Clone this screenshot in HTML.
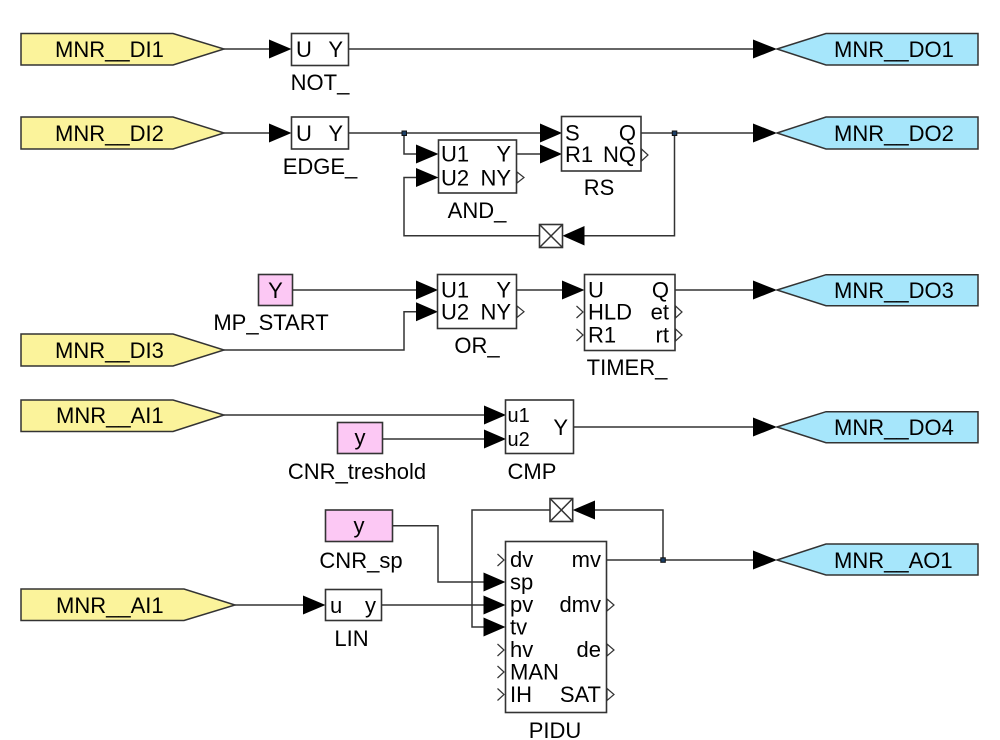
<!DOCTYPE html>
<html><head><meta charset="utf-8"><style>
html,body{margin:0;padding:0;background:#fff;}
svg{display:block;}
text{font-family:"Liberation Sans",Arial,sans-serif;fill:#000;}
.t{font-size:22px;}
.p{font-size:22px;}
.s{font-size:20px;}
.ln{stroke:#333;stroke-width:1.5;fill:none;}
.bx{stroke:#333;stroke-width:1.6;fill:#fff;}
.ar{fill:#000;}
.in{fill:#fbf39b;stroke:#333;stroke-width:1.5;}
.out{fill:#a6e6fb;stroke:#333;stroke-width:1.5;}
.pk{fill:#fcc8f4;stroke:#333;stroke-width:1.6;}
.ot{fill:#fff;stroke:#333;stroke-width:1.2;}
.ch{fill:none;stroke:#333;stroke-width:1.2;}
.jn{fill:#1b3f66;stroke:#111;stroke-width:1;}
</style></head><body>
<svg width="1000" height="740" viewBox="0 0 1000 740" xmlns="http://www.w3.org/2000/svg">

<!-- ===== Row 1 ===== -->
<polygon class="in" points="21,33.5 173,33.5 224,49 173,65 21,65"/>
<text class="t" x="55" y="57">MNR__DI1</text>
<line class="ln" x1="224" y1="49" x2="270" y2="49"/>
<polygon class="ar" points="269,39.5 291.5,49 269,58.5"/>
<rect class="bx" x="291.5" y="33.5" width="57" height="32"/>
<text class="p" x="296" y="57">U</text>
<text class="p" x="343" y="57" text-anchor="end">Y</text>
<text class="t" x="320" y="90" text-anchor="middle">NOT_</text>
<line class="ln" x1="348.5" y1="49" x2="754" y2="49"/>
<polygon class="ar" points="753,39.5 777,49 753,58.5"/>
<polygon class="out" points="777,49 826,33.5 978,33.5 978,65 826,65"/>
<text class="t" x="834" y="57">MNR__DO1</text>

<!-- ===== Row 2 ===== -->
<polygon class="in" points="21,117 173,117 224,133 173,149 21,149"/>
<text class="t" x="55" y="141">MNR__DI2</text>
<line class="ln" x1="224" y1="133" x2="270" y2="133"/>
<polygon class="ar" points="269,123.5 291.5,133 269,142.5"/>
<rect class="bx" x="291.5" y="117" width="57" height="32"/>
<text class="p" x="296" y="141">U</text>
<text class="p" x="343" y="141" text-anchor="end">Y</text>
<text class="t" x="320" y="174" text-anchor="middle">EDGE_</text>
<line class="ln" x1="348.5" y1="133" x2="541" y2="133"/>
<polygon class="ar" points="540,123.5 562,133 540,142.5"/>
<polyline class="ln" points="404,133 404,154 417,154"/>
<polygon class="ar" points="416,144.5 438.5,154 416,163.5"/>
<rect class="bx" x="438.5" y="140" width="78" height="53"/>
<text class="p" x="441" y="161.5">U1</text>
<text class="p" x="511" y="161.5" text-anchor="end">Y</text>
<text class="p" x="441" y="185.5">U2</text>
<text class="p" x="511" y="185.5" text-anchor="end">NY</text>
<polygon class="ot" points="517,172 524,177.5 517,183"/>
<text class="t" x="477" y="218" text-anchor="middle">AND_</text>
<line class="ln" x1="516.5" y1="154" x2="541" y2="154"/>
<polygon class="ar" points="540,144.5 562,154 540,163.5"/>
<rect class="bx" x="561.5" y="116.5" width="79.5" height="54.5"/>
<text class="p" x="565" y="140.5">S</text>
<text class="p" x="636" y="140.5" text-anchor="end">Q</text>
<text class="p" x="565" y="162">R1</text>
<text class="p" x="636" y="162" text-anchor="end">NQ</text>
<polygon class="ot" points="641.5,149 648,155 641.5,161"/>
<text class="t" x="599" y="195" text-anchor="middle">RS</text>
<line class="ln" x1="641" y1="133" x2="754" y2="133"/>
<polygon class="ar" points="753,123.5 777,133 753,142.5"/>
<polygon class="out" points="777,133 826,117 978,117 978,149 826,149"/>
<text class="t" x="834" y="141">MNR__DO2</text>
<polyline class="ln" points="674.5,133 674.5,235.7 583,235.7"/>
<polygon class="ar" points="584.5,226 562.5,235.7 584.5,245.5"/>
<rect class="bx" x="539.5" y="224.5" width="23" height="23"/>
<line class="ln" x1="539.5" y1="224.5" x2="562.5" y2="247.5"/>
<line class="ln" x1="562.5" y1="224.5" x2="539.5" y2="247.5"/>
<polyline class="ln" points="539.5,235.7 404,235.7 404,177.5 417,177.5"/>
<polygon class="ar" points="416,168 438.5,177.5 416,187"/>
<rect class="jn" x="402" y="131" width="4.5" height="4.5"/>
<rect class="jn" x="672.3" y="131" width="4.5" height="4.5"/>

<!-- ===== Row 3 ===== -->
<rect class="pk" x="258.5" y="274.5" width="34" height="31"/>
<text class="t" x="275.5" y="298" text-anchor="middle">Y</text>
<text class="t" x="271" y="330" text-anchor="middle">MP_START</text>
<line class="ln" x1="292.5" y1="290" x2="417" y2="290"/>
<polygon class="ar" points="416,280.5 438,290 416,299.5"/>
<polygon class="in" points="21,334 173,334 224,350 173,366 21,366"/>
<text class="t" x="55" y="358">MNR__DI3</text>
<polyline class="ln" points="224,350 404,350 404,311.7 417,311.7"/>
<polygon class="ar" points="416,302.2 438,311.7 416,321.2"/>
<rect class="bx" x="437.5" y="274.5" width="79" height="54"/>
<text class="p" x="441" y="297.5">U1</text>
<text class="p" x="511" y="297.5" text-anchor="end">Y</text>
<text class="p" x="441" y="319.5">U2</text>
<text class="p" x="511" y="319.5" text-anchor="end">NY</text>
<polygon class="ot" points="517,306 524,311.7 517,317.5"/>
<text class="t" x="477" y="353" text-anchor="middle">OR_</text>
<line class="ln" x1="516.5" y1="290" x2="563" y2="290"/>
<polygon class="ar" points="562,280.5 584.5,290 562,299.5"/>
<rect class="bx" x="584.5" y="274.5" width="90.5" height="76"/>
<text class="p" x="588" y="297.5">U</text>
<text class="p" x="669" y="297.5" text-anchor="end">Q</text>
<text class="p" x="588" y="319.5">HLD</text>
<text class="p" x="669" y="319.5" text-anchor="end">et</text>
<text class="p" x="588" y="342.5">R1</text>
<text class="p" x="669" y="342.5" text-anchor="end">rt</text>
<polyline class="ch" points="576.5,306 583,312 576.5,318"/>
<polyline class="ch" points="576.5,329 583,335 576.5,341"/>
<polygon class="ot" points="675.5,306 682,312 675.5,318"/>
<polygon class="ot" points="675.5,329 682,335 675.5,341"/>
<text class="t" x="627" y="375" text-anchor="middle">TIMER_</text>
<line class="ln" x1="675" y1="290" x2="754" y2="290"/>
<polygon class="ar" points="753,280.5 777,290 753,299.5"/>
<polygon class="out" points="777,290 826,274.7 978,274.7 978,305.7 826,305.7"/>
<text class="t" x="834" y="298">MNR__DO3</text>

<!-- ===== Row 4 ===== -->
<polygon class="in" points="21,400 173,400 224,415 173,431.5 21,431.5"/>
<text class="t" x="56" y="423">MNR__AI1</text>
<line class="ln" x1="224" y1="415" x2="485" y2="415"/>
<polygon class="ar" points="484,405.5 506,415 484,424.5"/>
<rect class="pk" x="337.5" y="422.5" width="45" height="31"/>
<text class="t" x="360" y="445" text-anchor="middle">y</text>
<text class="t" x="357" y="479" text-anchor="middle">CNR_treshold</text>
<line class="ln" x1="382.5" y1="439" x2="485" y2="439"/>
<polygon class="ar" points="484,429.5 506,439 484,448.5"/>
<rect class="bx" x="505.5" y="400" width="68" height="53.5"/>
<text class="s" x="507.5" y="422">u1</text>
<text class="s" x="507.5" y="446">u2</text>
<text class="t" x="568" y="435" text-anchor="end">Y</text>
<text class="t" x="532" y="479" text-anchor="middle">CMP</text>
<line class="ln" x1="573.5" y1="427" x2="754" y2="427"/>
<polygon class="ar" points="753,417.5 777,427 753,436.5"/>
<polygon class="out" points="777,427 826,411.7 978,411.7 978,442.7 826,442.7"/>
<text class="t" x="834" y="435">MNR__DO4</text>

<!-- ===== Row 5 ===== -->
<rect class="pk" x="325.5" y="510" width="67" height="31.5"/>
<text class="t" x="359" y="533" text-anchor="middle">y</text>
<text class="t" x="361" y="568" text-anchor="middle">CNR_sp</text>
<polyline class="ln" points="392.5,525.7 438,525.7 438,582 484,582"/>
<polygon class="ar" points="483.5,572.5 505.5,582 483.5,591.5"/>
<polygon class="in" points="21,589 184,589 235,605 184,620.5 21,620.5"/>
<text class="t" x="56" y="613">MNR__AI1</text>
<line class="ln" x1="235" y1="605" x2="304" y2="605"/>
<polygon class="ar" points="303,595.5 325.5,605 303,614.5"/>
<rect class="bx" x="325.5" y="589.5" width="56" height="31"/>
<text class="p" x="330" y="613">u</text>
<text class="p" x="376" y="613" text-anchor="end">y</text>
<text class="t" x="351.5" y="646" text-anchor="middle">LIN</text>
<line class="ln" x1="381.5" y1="605" x2="484" y2="605"/>
<polygon class="ar" points="483.5,595.5 505.5,605 483.5,614.5"/>
<polyline class="ln" points="663,560 663,510 594,510"/>
<polygon class="ar" points="595,500.5 572.7,510 595,519.5"/>
<rect class="bx" x="550" y="498.5" width="22.7" height="23"/>
<line class="ln" x1="550" y1="498.5" x2="572.7" y2="521.5"/>
<line class="ln" x1="572.7" y1="498.5" x2="550" y2="521.5"/>
<polyline class="ln" points="550,510 472,510 472,627 484,627"/>
<polygon class="ar" points="483.5,617.5 505.5,627 483.5,636.5"/>
<rect class="bx" x="505.5" y="541.5" width="101" height="171"/>
<text class="p" x="510" y="567">dv</text>
<text class="p" x="510" y="589.5">sp</text>
<text class="p" x="510" y="612">pv</text>
<text class="p" x="510" y="634.5">tv</text>
<text class="p" x="510" y="657">hv</text>
<text class="p" x="510" y="679.5">MAN</text>
<text class="p" x="510" y="702">IH</text>
<text class="p" x="601" y="567" text-anchor="end">mv</text>
<text class="p" x="601" y="612" text-anchor="end">dmv</text>
<text class="p" x="601" y="657" text-anchor="end">de</text>
<text class="p" x="601" y="702" text-anchor="end">SAT</text>
<polyline class="ch" points="497.5,554 504,560 497.5,566"/>
<polyline class="ch" points="497.5,644 504,650 497.5,656"/>
<polyline class="ch" points="497.5,666 504,672 497.5,678"/>
<polyline class="ch" points="497.5,688.5 504,694.5 497.5,700.5"/>
<polygon class="ot" points="607,599 614,605 607,611"/>
<polygon class="ot" points="607,644 614,650 607,656"/>
<polygon class="ot" points="607,688.5 614,694.5 607,700.5"/>
<text class="t" x="555" y="738" text-anchor="middle">PIDU</text>
<line class="ln" x1="606.5" y1="560" x2="754" y2="560"/>
<polygon class="ar" points="753,550.5 777,560 753,569.5"/>
<polygon class="out" points="777,560 826,544 978,544 978,575 826,575"/>
<text class="t" x="834" y="568">MNR__AO1</text>
<rect class="jn" x="660.8" y="557.8" width="4.5" height="4.5"/>
</svg>
</body></html>
